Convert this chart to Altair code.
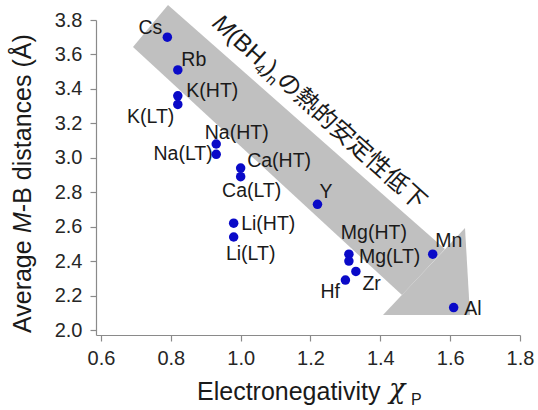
import math
import altair as alt
import numpy as np
import pandas as pd

# ---------------- data ----------------
names = ["Cs", "Rb", "K(HT)", "K(LT)", "Na(HT)", "Na(LT)", "Ca(HT)", "Ca(LT)", "Y",
         "Li(HT)", "Li(LT)", "Mg(HT)", "Mg(LT)", "Zr", "Hf", "Mn", "Al"]
electroneg = [0.79, 0.82, 0.82, 0.82, 0.93, 0.93, 1.00, 1.00, 1.22,
              0.98, 0.98, 1.31, 1.31, 1.33, 1.30, 1.55, 1.61]
distance = [3.70, 3.51, 3.36, 3.31, 3.08, 3.02, 2.94, 2.89, 2.73,
            2.62, 2.54, 2.44, 2.40, 2.34, 2.29, 2.44, 2.13]

# label placement (alignment + pixel offset of label from its point)
label_align = ["right", "left", "left", "right", "left", "right", "left", "center", "left",
               "left", "center", "center", "left", "left", "right", "left", "left"]
label_dx = [-5, 3.5, 8.5, -3.5, -11.5, -3.5, 6.5, 11, 2, 7.5, 17, 25, 10, 6.5, -5.5, 2.5, 10.5]
label_dy = [-9, -10, -5, 13, -11.5, -0.7, -7, 14.5, -12.5, 0.7, 16.5, -21, -3.7, 13, 12, -13, 1.7]

x_ticks = [0.6, 0.8, 1.0, 1.2, 1.4, 1.6, 1.8]
y_ticks = [2.0, 2.2, 2.4, 2.6, 2.8, 3.0, 3.2, 3.4, 3.6, 3.8]
X_DOMAIN = [0.5857, 1.8]
Y_DOMAIN = [1.971, 3.8]

# big annotation arrow (data units): shaft polygon chains and head triangle chains
shaft_top_x = [0.6916, 0.7919, 1.585]
shaft_top_y = [3.643, 3.887, 2.470]
shaft_bot_x = [0.6916, 1.462, 1.585]
shaft_bot_y = [3.643, 2.203, 2.470]
head_top_x = [1.4076, 1.6425, 1.6568]
head_top_y = [2.087, 2.592, 2.087]
head_bot_x = [1.4076, 1.6568]
head_bot_y = [2.087, 2.087]

# ---------------- layout ----------------
W, H = 424, 315
PAD = {"left": 96, "top": 20, "right": 18, "bottom": 75}
px_x = W / (X_DOMAIN[1] - X_DOMAIN[0])
px_y = H / (Y_DOMAIN[1] - Y_DOMAIN[0])

LAT = "Liberation Sans"
CJK = "Noto Sans CJK JP"
INK = "#1a1a1a"

xsc = alt.Scale(domain=X_DOMAIN, nice=False, zero=False)
ysc = alt.Scale(domain=Y_DOMAIN, nice=False, zero=False)
xaxis = alt.Axis(values=x_ticks, format=".1f", title=None, grid=False,
                 domainColor="#8a8a8a", tickColor="#8a8a8a", tickSize=6,
                 labelFontSize=20, labelFont=LAT, labelColor="#262626", labelPadding=7,
                 labelFlush=False, labelOverlap=False)
yaxis = alt.Axis(values=y_ticks, format=".1f", title=None, grid=False,
                 domainColor="#8a8a8a", tickColor="#8a8a8a", tickSize=6,
                 labelFontSize=20, labelFont=LAT, labelColor="#262626", labelPadding=8,
                 labelFlush=False, labelOverlap=False)


def X(field):
    return alt.X(field, type="quantitative", scale=xsc, axis=xaxis)


def Y(field):
    return alt.Y(field, type="quantitative", scale=ysc, axis=yaxis)


# arrow polygons as areas
rows = []
for part, tx, ty, bx, by in [("shaft", shaft_top_x, shaft_top_y, shaft_bot_x, shaft_bot_y),
                             ("head", head_top_x, head_top_y, head_bot_x, head_bot_y)]:
    xs = sorted(set(tx) | set(bx))
    top = np.interp(xs, tx, ty)
    bot = np.interp(xs, bx, by)
    for xv, t, b in zip(xs, top, bot):
        rows.append({"part": part, "x": xv, "top": float(t), "bot": float(b)})
arrow_df = pd.DataFrame(rows)
arrow = alt.Chart(arrow_df).mark_area(color="#c0c0c0", opacity=1, interpolate="linear").encode(
    x=X("x"), y=Y("top"), y2="bot:Q", detail="part:N")

pts_df = pd.DataFrame({"name": names, "x": electroneg, "y": distance,
                       "align": label_align})
pts_df["lx"] = pts_df["x"] + np.array(label_dx) / px_x
pts_df["ly"] = pts_df["y"] - np.array(label_dy) / px_y

points = alt.Chart(pts_df).mark_circle(size=90, color="#0a0ac8", opacity=1).encode(
    x=X("x"), y=Y("y"))

label_layers = []
for a in ["left", "right", "center"]:
    label_layers.append(
        alt.Chart(pts_df[pts_df["align"] == a]).mark_text(
            align=a, baseline="middle", font=LAT, fontSize=19.5, color=INK
        ).encode(x=X("lx"), y=Y("ly"), text="name:N"))

one = pd.DataFrame({"k": [0]})


def txt(t, x, y, size, angle=0, font=LAT, style="normal", align="left", color=INK):
    return alt.Chart(one).mark_text(
        text=t, font=font, fontSize=size, fontStyle=style, align=align,
        baseline="alphabetic", angle=angle, color=color
    ).encode(x=alt.value(x), y=alt.value(y))


# approximate Arial advance widths (per 1000 em)
AW = {"A": 667, "v": 500, "e": 556, "r": 333, "a": 556, "g": 556, " ": 278, "M": 833,
      "(": 333, "B": 667, "H": 722, ")": 333, "4": 556, "n": 556}


def width(s, size):
    return sum(AW.get(c, 556) for c in s) * size / 1000.0


texts = []
# y-axis title (rotated), plot coords
ybase_x = -65
yb = 313
texts.append(txt("Average", ybase_x, yb, 25, angle=270))
yb -= width("Average ", 25)
texts.append(txt("M", ybase_x, yb, 25, angle=270, style="italic"))
yb -= width("M", 25)
texts.append(txt("-B distances (Å)", ybase_x, yb, 25, angle=270))

# x-axis title
texts.append(txt("Electronegativity", 101, 380, 25))
texts.append(txt("χ", 293, 378, 27, font="DejaVu Serif", style="italic"))
texts.append(txt("P", 315, 385, 16))

# rotated annotation along the arrow
th = math.radians(42)
ux, uy = math.cos(th), math.sin(th)
dnx, dny = -math.sin(th), math.cos(th)
sx, sy = 115.0, 5.0
pos = 0.0
pieces = [("M", 24, "italic", LAT, False), ("(BH", 24, "normal", LAT, False),
          ("4", 15, "normal", LAT, True), (")", 24, "normal", LAT, False),
          ("n", 15, "normal", LAT, True)]
for t, size, style, font, sub in pieces:
    off = 5 if sub else 0
    px_ = sx + pos * ux + off * dnx
    py_ = sy + pos * uy + off * dny
    texts.append(txt(t, px_, py_, size, angle=42, font=font, style=style))
    pos += width(t, size)
px_ = sx + pos * ux
py_ = sy + pos * uy
texts.append(txt("の熱的安定性低下", px_, py_, 24, angle=42, font=CJK))

chart = alt.layer(arrow, points, *label_layers, *texts).properties(
    width=W, height=H, padding=PAD, autosize=alt.AutoSizeParams(type="none")
).configure_view(stroke=None).configure_axis(domainWidth=1.2, tickWidth=1.2)

chart.save("out.html", embed_options={"renderer": "svg", "actions": False})
